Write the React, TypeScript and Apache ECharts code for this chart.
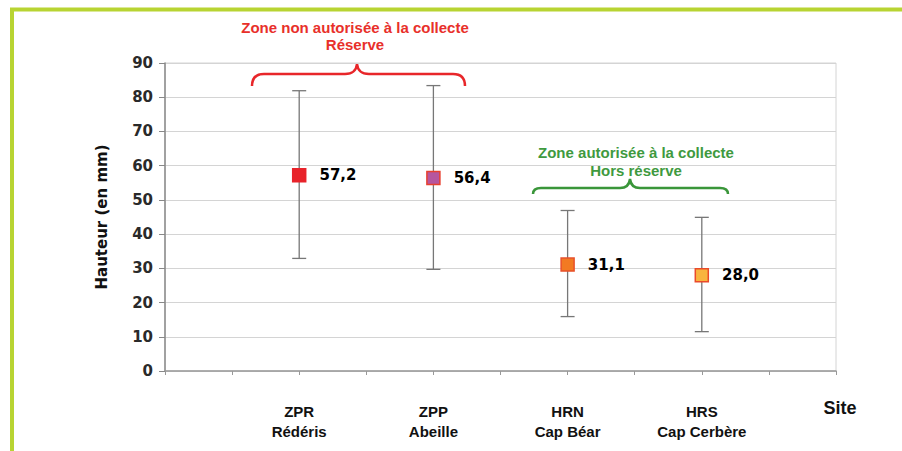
import React, { useEffect, useRef } from "react";
import * as echarts from "echarts";

const siteLabels = ["ZPR\nRédéris", "ZPP\nAbeille", "HRN\nCap Béar", "HRS\nCap Cerbère"];
const sitePositions = [2, 4, 6, 8];
const means = [57.2, 56.4, 31.1, 28.0];
const lows = [32.9, 29.7, 15.9, 11.5];
const highs = [81.9, 83.4, 46.9, 44.9];
const markerFills = ["#e8232a", "#b6569e", "#f27a22", "#f8b43e"];
const markerBorders = ["#e8232a", "#e8402e", "#e8502a", "#ea4a2a"];
const yTicks = [0, 10, 20, 30, 40, 50, 60, 70, 80, 90];

const redZone = ["Zone non autorisée à la collecte", "Réserve"];
const greenZone = ["Zone autorisée à la collecte", "Hors réserve"];

echarts.graphic.registerShape(
  "braceRed",
  echarts.graphic.extendPath(
    "M252,86 Q252,74 264,74 L345,74 Q356,74 357,64 Q358,74 369,74 L453,74 Q465,74 465,86",
    {}
  )
);
echarts.graphic.registerShape(
  "braceGreen",
  echarts.graphic.extendPath(
    "M533,194 Q533,188 541,188 L620,188 Q629,188 630,179 Q631,188 640,188 L720,188 Q728,188 728,194",
    {}
  )
);

export default function App() {
  const ref = useRef<HTMLDivElement>(null);
  useEffect(() => {
    if (!ref.current) return;
    const chart = echarts.init(ref.current, null, { renderer: "svg" });
    const errData = sitePositions.map((x, i) => [x, lows[i], highs[i]]);
    const ptData = sitePositions.map((x, i) => ({
      value: [x, means[i]],
      itemStyle: { color: markerFills[i], borderColor: markerBorders[i], borderWidth: 1.5, opacity: 1 },
    }));
    const annFont = "bold 15px 'Liberation Sans', Arial, sans-serif";
    chart.setOption({
      animation: false,
      backgroundColor: "#ffffff",
      grid: {
        left: 165,
        right: 66,
        top: 63,
        bottom: 80,
        show: true,
        borderColor: "#d4d4d4",
        borderWidth: 1,
      },
      xAxis: {
        type: "value",
        min: 0,
        max: 10,
        interval: 1,
        splitLine: { show: false },
        axisLine: { lineStyle: { color: "#999999", width: 1.5 } },
        axisTick: { show: true, length: 4, lineStyle: { color: "#999999" } },
        axisLabel: {
          margin: 30,
          fontFamily: "'Liberation Sans', Arial, sans-serif",
          fontWeight: "bold",
          fontSize: 15,
          lineHeight: 20,
          color: "#111111",
          formatter: (v: number) => {
            const idx = sitePositions.indexOf(Math.round(v));
            return idx >= 0 ? siteLabels[idx] : "";
          },
        },
      },
      yAxis: {
        type: "value",
        min: 0,
        max: 90,
        interval: 10,
        name: "Hauteur (en mm)",
        nameLocation: "middle",
        nameGap: 56,
        nameTextStyle: {
          fontFamily: "'DejaVu Sans', Verdana, sans-serif",
          fontWeight: "bold",
          fontSize: 15,
          color: "#111111",
        },
        axisLine: { show: true, lineStyle: { color: "#888888", width: 1.5 } },
        axisTick: { show: true, length: 6, lineStyle: { color: "#888888" } },
        splitLine: { lineStyle: { color: "#d4d4d4", width: 1 } },
        axisLabel: {
          margin: 12,
          fontFamily: "'DejaVu Sans', Verdana, sans-serif",
          fontWeight: "bold",
          fontSize: 15,
          color: "#2a2a2a",
          formatter: (v: number) => (yTicks.includes(v) ? String(v) : ""),
        },
      },
      series: [
        {
          type: "custom",
          data: errData,
          z: 2,
          renderItem: (params: any, api: any) => {
            const x = api.value(0);
            const lo = api.coord([x, api.value(1)]);
            const hi = api.coord([x, api.value(2)]);
            const w = 7;
            const st = { stroke: "#777777", lineWidth: 1.3 };
            return {
              type: "group",
              children: [
                { type: "line", shape: { x1: lo[0], y1: lo[1], x2: hi[0], y2: hi[1] }, style: st },
                { type: "line", shape: { x1: lo[0] - w, y1: lo[1], x2: lo[0] + w, y2: lo[1] }, style: st },
                { type: "line", shape: { x1: hi[0] - w, y1: hi[1], x2: hi[0] + w, y2: hi[1] }, style: st },
              ],
            };
          },
        },
        {
          type: "scatter",
          data: ptData,
          z: 5,
          symbol: "rect",
          symbolSize: 13,
          label: {
            show: true,
            position: "right",
            distance: 13,
            fontFamily: "'DejaVu Sans', Verdana, sans-serif",
            fontWeight: "bold",
            fontSize: 15,
            color: "#000000",
            formatter: (p: any) => p.value[1].toFixed(1).replace(".", ","),
          },
        },
      ],
      graphic: [
        {
          type: "rect",
          shape: { x: 12, y: 9.5, width: 1000, height: 444 },
          style: { fill: "none", stroke: "#b8d432", lineWidth: 4 },
          silent: true,
        },
        {
          type: "text",
          x: 355,
          y: 27,
          style: { text: redZone[0], fill: "#e8302a", font: annFont, align: "center", verticalAlign: "middle" },
        },
        {
          type: "text",
          x: 355,
          y: 44,
          style: { text: redZone[1], fill: "#e8302a", font: annFont, align: "center", verticalAlign: "middle" },
        },
        {
          type: "braceRed",
          x: 0,
          y: 0,
          style: { fill: "none", stroke: "#e8262a", lineWidth: 2.5 },
        },
        {
          type: "text",
          x: 636,
          y: 152,
          style: { text: greenZone[0], fill: "#3f9a3f", font: annFont, align: "center", verticalAlign: "middle" },
        },
        {
          type: "text",
          x: 636,
          y: 170,
          style: { text: greenZone[1], fill: "#3f9a3f", font: annFont, align: "center", verticalAlign: "middle" },
        },
        {
          type: "braceGreen",
          x: 0,
          y: 0,
          style: { fill: "none", stroke: "#3a963a", lineWidth: 2.5 },
        },
        {
          type: "text",
          x: 840,
          y: 408,
          style: {
            text: "Site",
            fill: "#111111",
            font: "bold 18px 'Liberation Sans', Arial, sans-serif",
            align: "center",
            verticalAlign: "middle",
          },
        },
      ],
    });
    return () => chart.dispose();
  }, []);
  return (
    <div
      ref={ref}
      style={{ position: "fixed", left: 0, top: 0, width: 902, height: 451, background: "#fff" }}
    />
  );
}
